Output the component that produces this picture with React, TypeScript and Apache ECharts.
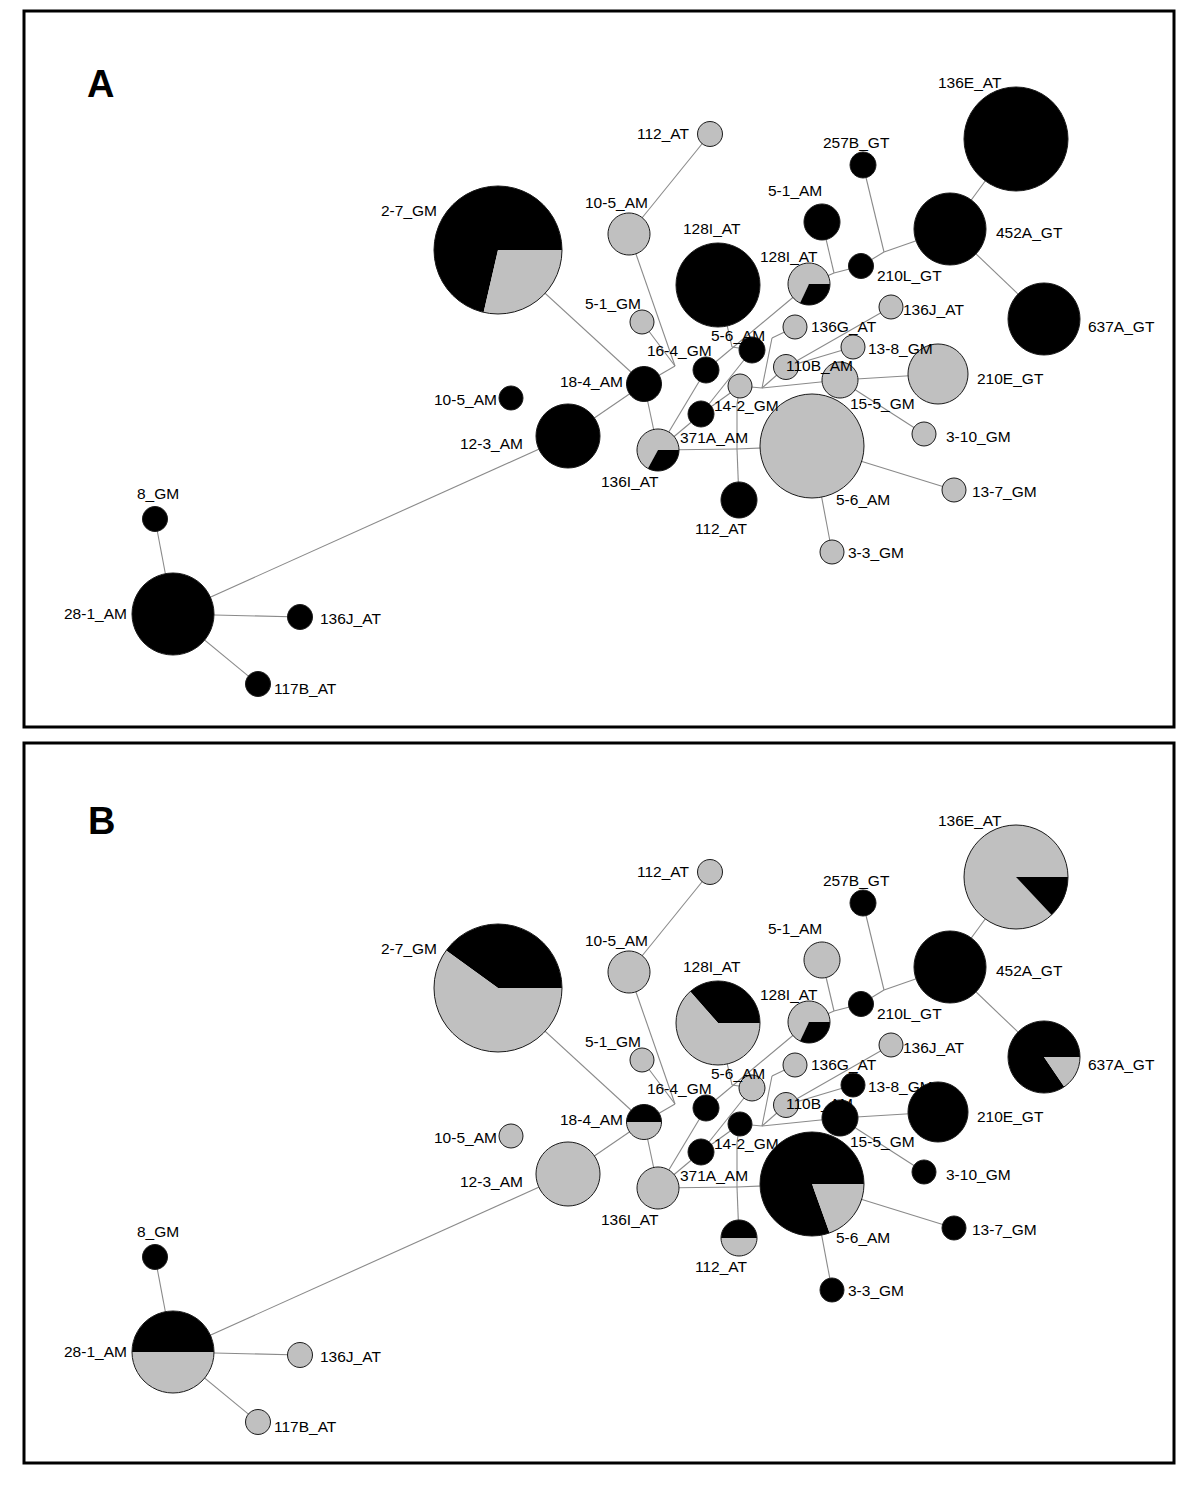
import React, { useEffect, useRef } from "react";
import * as echarts from "echarts";

// ---- Network layout (panel-local coordinates, shared by panels A and B) ----
const nodeNames = [
  "136E_AT", "452A_GT", "637A_GT", "257B_GT", "5-1_AM", "210L_GT", "128I_AT", "128I_AT",
  "10-5_AM", "112_AT", "2-7_GM", "5-1_GM", "16-4_GM", "5-6_AM", "18-4_AM", "10-5_AM",
  "12-3_AM", "136G_AT", "136J_AT", "13-8_GM", "110B_AM", "14-2_GM", "15-5_GM", "210E_GT",
  "3-10_GM", "13-7_GM", "5-6_AM", "3-3_GM", "112_AT", "371A_AM", "136I_AT", "8_GM",
  "28-1_AM", "136J_AT", "117B_AT",
];
const nodeX = [
  1016, 950, 1044, 863, 822, 861, 809, 718,
  629, 710, 498, 642, 706, 752, 644, 511,
  568, 795, 891, 853, 786, 740, 840, 938,
  924, 954, 812, 832, 739, 701, 658, 155,
  173, 300, 258,
];
const nodeY = [
  139, 229, 319, 165, 222, 266, 284, 285,
  234, 134, 250, 322, 370, 350, 384, 398,
  436, 327, 307, 347, 367, 386, 380, 374,
  434, 490, 446, 552, 500, 414, 450, 519,
  614, 617, 684,
];
const nodeSize = [
  52, 36, 36, 13, 18, 12.5, 21, 42,
  21, 12.5, 64, 12, 13, 13, 17.5, 12,
  32, 12, 12, 12, 12.5, 12, 18, 30,
  12, 12, 52, 12, 18, 13, 21, 12.5,
  41, 12.5, 12.5,
];
// share of black in each node, panel A and panel B; first slice colour (1 = black first)
const blackA = [
  1, 1, 1, 1, 1, 1, 0.32, 1,
  0, 0, 0.714, 0, 1, 1, 1, 1,
  1, 0, 0, 0, 0, 0, 0, 0,
  0, 0, 0, 0, 1, 1, 0.33, 1,
  1, 1, 1,
];
const blackFirstA = [
  1, 1, 1, 1, 1, 1, 0, 1,
  1, 1, 1, 1, 1, 1, 1, 1,
  1, 1, 1, 1, 1, 1, 1, 1,
  1, 1, 1, 1, 1, 1, 0, 1,
  1, 1, 1,
];
const blackB = [
  0.13, 1, 0.845, 1, 0, 1, 0.32, 0.365,
  0, 0, 0.4, 0, 1, 0, 0.5, 0,
  0, 0, 0, 1, 0, 1, 1, 1,
  1, 1, 0.805, 1, 0.5, 1, 0, 1,
  0.5, 0, 0,
];
const blackFirstB = [
  0, 1, 1, 1, 1, 1, 0, 1,
  1, 1, 1, 1, 1, 1, 1, 1,
  1, 1, 1, 1, 1, 1, 1, 1,
  1, 1, 1, 1, 1, 1, 1, 1,
  1, 1, 1,
];
// label offsets (text left edge / middle, relative to node centre)
const labelDX = [
  -78, 46, 44, -40, -54, 16, -49, -35,
  -44, -73, -117, -57, -59, -41, -84, -77,
  -108, 16, 12, 15, 0, -26, 10, 39,
  22, 18, 24, 16, -44, -21, -57, -18,
  -109, 20, 16,
];
const labelDY = [
  -57, 3, 7, -23, -32, 9, -28, -57,
  -32, -1, -40, -19, -20, -15, -3, 1,
  7, -1, 2, 1, -2, 19, 23, 4,
  2, 1, 53, 0, 28, 23, 31, -26,
  -1, 1, 4,
];
// median (junction) vertices
const junctionX = [675, 732, 884, 834, 737, 737, 762, 772];
const junctionY = [366, 347, 252, 273, 449, 404, 388, 338];
// edges: node index (n) or junction index (j)
const edgeFrom = [
  "n0", "n1", "n1", "j2", "n3", "n5", "n4", "j3",
  "n6", "n7", "j1", "n8", "n8", "n11", "j0", "n10",
  "n16", "n32", "n14", "n30", "n30", "n29", "n29", "n30",
  "j4", "j4", "j4", "j5", "n21", "j6", "j7", "j6",
  "j6", "n20", "n20", "n22", "n22", "n26", "n26", "n32",
  "n32", "n32",
];
const edgeTo = [
  "n1", "n2", "j2", "n5", "j2", "j3", "j3", "n6",
  "n12", "j1", "n13", "n9", "j0", "j0", "n14", "n14",
  "n14", "n16", "n30", "n12", "n29", "n13", "n21", "j4",
  "n26", "n28", "j5", "n21", "j6", "j7", "n17", "n20",
  "n22", "n18", "n19", "n23", "n24", "n25", "n27", "n31",
  "n33", "n34",
];

const GRAY = "#c0c0c0";
const BLACK = "#000000";
const FONT = "'Liberation Sans', Arial, Helvetica, sans-serif";

function pt(ref: string): [number, number] {
  const i = parseInt(ref.slice(1), 10);
  return ref[0] === "n" ? [nodeX[i], nodeY[i]] : [junctionX[i], junctionY[i]];
}

const edgeData = edgeFrom.map((f, i) => {
  const a = pt(f);
  const b = pt(edgeTo[i]);
  return [a[0], a[1], b[0], b[1]];
});
const nodeData = nodeX.map((x, i) => [x, nodeY[i]]);

function edgeSeries(gi: number) {
  return {
    type: "custom",
    xAxisIndex: gi,
    yAxisIndex: gi,
    z: 1,
    silent: true,
    encode: { x: [0, 2], y: [1, 3] },
    data: edgeData,
    renderItem: (params: any, api: any) => {
      const p1 = api.coord([api.value(0), api.value(1)]);
      const p2 = api.coord([api.value(2), api.value(3)]);
      return {
        type: "line",
        shape: { x1: p1[0], y1: p1[1], x2: p2[0], y2: p2[1] },
        style: { stroke: "#8a8a8a", lineWidth: 1.1 },
      };
    },
  };
}

function nodeSeries(gi: number, black: number[], blackFirst: number[]) {
  return {
    type: "custom",
    xAxisIndex: gi,
    yAxisIndex: gi,
    z: 2,
    silent: true,
    encode: { x: 0, y: 1 },
    data: nodeData,
    renderItem: (params: any, api: any) => {
      const i = params.dataIndex;
      const c = api.coord([api.value(0), api.value(1)]);
      const r = api.size([nodeSize[i], 0])[0];
      const b = black[i];
      const children: any[] = [];
      if (b >= 0.999 || b <= 0.001) {
        children.push({
          type: "circle",
          shape: { cx: c[0], cy: c[1], r },
          style: { fill: b >= 0.999 ? BLACK : GRAY },
        });
      } else {
        const slices = blackFirst[i]
          ? [[BLACK, b], [GRAY, 1 - b]]
          : [[GRAY, 1 - b], [BLACK, b]];
        let a0 = 0;
        slices.forEach((s) => {
          const a1 = a0 + (s[1] as number) * 2 * Math.PI;
          children.push({
            type: "sector",
            shape: { cx: c[0], cy: c[1], r, r0: 0, startAngle: -a1, endAngle: -a0, clockwise: true },
            style: { fill: s[0] as string },
          });
          a0 = a1;
        });
      }
      children.push({
        type: "circle",
        shape: { cx: c[0], cy: c[1], r },
        style: { fill: "none", stroke: "#1a1a1a", lineWidth: 1 },
      });
      return { type: "group", children };
    },
  };
}

function labelSeries(gi: number) {
  return {
    type: "custom",
    xAxisIndex: gi,
    yAxisIndex: gi,
    z: 3,
    silent: true,
    encode: { x: 0, y: 1 },
    data: nodeData,
    renderItem: (params: any, api: any) => {
      const i = params.dataIndex;
      const c = api.coord([api.value(0), api.value(1)]);
      return {
        type: "text",
        style: {
          text: nodeNames[i],
          x: c[0] + labelDX[i],
          y: c[1] + labelDY[i],
          fill: "#000",
          fontSize: 15.5,
          fontFamily: FONT,
          align: "left",
          verticalAlign: "middle",
        },
      };
    },
  };
}

export default function App() {
  const ref = useRef<HTMLDivElement>(null);
  useEffect(() => {
    if (!ref.current) return;
    const chart = echarts.init(ref.current, null, { renderer: "svg" });
    const axisX = (gi: number) => ({ type: "value", gridIndex: gi, min: 0, max: 1200, show: false });
    const axisY = (gi: number) => ({ type: "value", gridIndex: gi, min: 0, max: 738, inverse: true, show: false });
    chart.setOption({
      animation: false,
      backgroundColor: "#ffffff",
      grid: [
        { left: 0, top: 0, width: 1200, height: 738 },
        { left: 0, top: 738, width: 1200, height: 738 },
      ],
      xAxis: [axisX(0), axisX(1)],
      yAxis: [axisY(0), axisY(1)],
      graphic: [
        { type: "rect", z: 10, shape: { x: 24, y: 11, width: 1150, height: 716 }, style: { fill: "none", stroke: "#000", lineWidth: 3 } },
        { type: "rect", z: 10, shape: { x: 24, y: 743, width: 1150, height: 720 }, style: { fill: "none", stroke: "#000", lineWidth: 3 } },
        { type: "text", z: 10, style: { text: "A", x: 87, y: 84, fill: "#000", fontSize: 38, fontWeight: "bold", fontFamily: FONT, verticalAlign: "middle" } },
        { type: "text", z: 10, style: { text: "B", x: 88, y: 821, fill: "#000", fontSize: 38, fontWeight: "bold", fontFamily: FONT, verticalAlign: "middle" } },
      ],
      series: [
        edgeSeries(0),
        nodeSeries(0, blackA, blackFirstA),
        labelSeries(0),
        edgeSeries(1),
        nodeSeries(1, blackB, blackFirstB),
        labelSeries(1),
      ],
    });
    return () => chart.dispose();
  }, []);
  return (
    <div
      ref={ref}
      style={{ position: "absolute", left: 0, top: 0, width: 1200, height: 1487, background: "#fff" }}
    />
  );
}
